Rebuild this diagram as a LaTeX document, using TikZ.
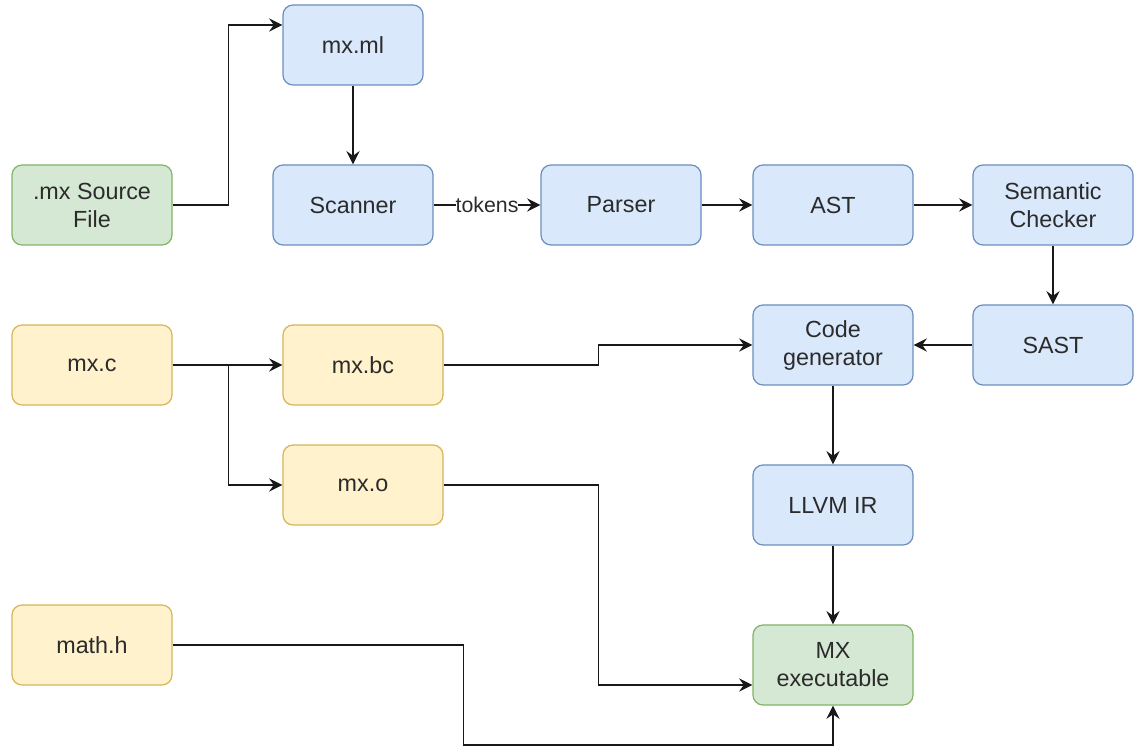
\documentclass[tikz,border=0pt]{standalone}
\usepackage{fontspec}
\setmainfont{Liberation Sans}
\usetikzlibrary{arrows.meta}
\definecolor{bfill}{HTML}{DAE8FC}
\definecolor{bdraw}{HTML}{6C8EBF}
\definecolor{gfill}{HTML}{D5E8D4}
\definecolor{gdraw}{HTML}{82B366}
\definecolor{yfill}{HTML}{FFF2CC}
\definecolor{ydraw}{HTML}{D6B656}
\definecolor{txt}{HTML}{2B2B2B}
\begin{document}
\begin{tikzpicture}[x=0.75pt,y=-0.75pt,
  box/.style={draw, rounded corners=7.5pt, minimum width=120pt, minimum height=60pt,
    line width=0.9pt, align=center, inner sep=2pt, text=txt,
    font=\fontsize{17.5}{21}\selectfont},
  bluebox/.style={box, fill=bfill, draw=bdraw},
  greenbox/.style={box, fill=gfill, draw=gdraw},
  yellowbox/.style={box, fill=yfill, draw=ydraw},
  arr/.style={draw=black!90, line width=1.15pt, -{Stealth[length=10pt,width=10pt,inset=3.5pt]}},
  lbl/.style={fill=white, inner sep=0pt, text=txt, font=\fontsize{16}{18}\selectfont}
]
\useasboundingbox (0,0) rectangle (1140,748);

\node[bluebox, minimum width=105pt] (mxml) at (353,45) {mx.ml};
\node[greenbox] (src) at (92,205) {.mx Source\\File};
\node[bluebox] (scan) at (353,205) {Scanner};
\node[bluebox] (parse) at (621,205) {Parser};
\node[bluebox] (ast) at (833,205) {AST};
\node[bluebox] (sem) at (1053,205) {Semantic\\Checker};
\node[bluebox] (sast) at (1053,345) {SAST};
\node[bluebox] (cg) at (833,345) {Code\\generator};
\node[yellowbox] (mxc) at (92,365) {mx.c};
\node[yellowbox] (mxbc) at (363,365) {mx.bc};
\node[yellowbox] (mxo) at (363,485) {mx.o};
\node[bluebox] (llvm) at (833,505) {LLVM IR};
\node[yellowbox] (math) at (92,645) {math.h};
\node[greenbox] (exe) at (833,665) {MX\\executable};

\draw[arr] (src.east) -- ++(56,0) |- ([yshift=15pt]mxml.west);
\draw[arr] (mxml) -- (scan);
\draw[arr] (scan) -- node[lbl] {tokens} (parse);
\draw[arr] (parse) -- (ast);
\draw[arr] (ast) -- (sem);
\draw[arr] (sem) -- (sast);
\draw[arr] (sast) -- (cg);
\draw[arr] (cg) -- (llvm);
\draw[arr] (llvm) -- (exe);
\draw[arr] (mxc) -- (mxbc);
\draw[arr] (mxc.east) -- ++(56,0) |- (mxo.west);
\draw[arr] (mxbc.east) -- ++(155,0) |- (cg.west);
\draw[arr] (mxo.east) -- ++(155,0) |- ([yshift=-15pt]exe.west);
\draw[arr] (math.east) -- ++(291,0) -- ++(0,100) -| (exe.south);
\end{tikzpicture}
\end{document}
